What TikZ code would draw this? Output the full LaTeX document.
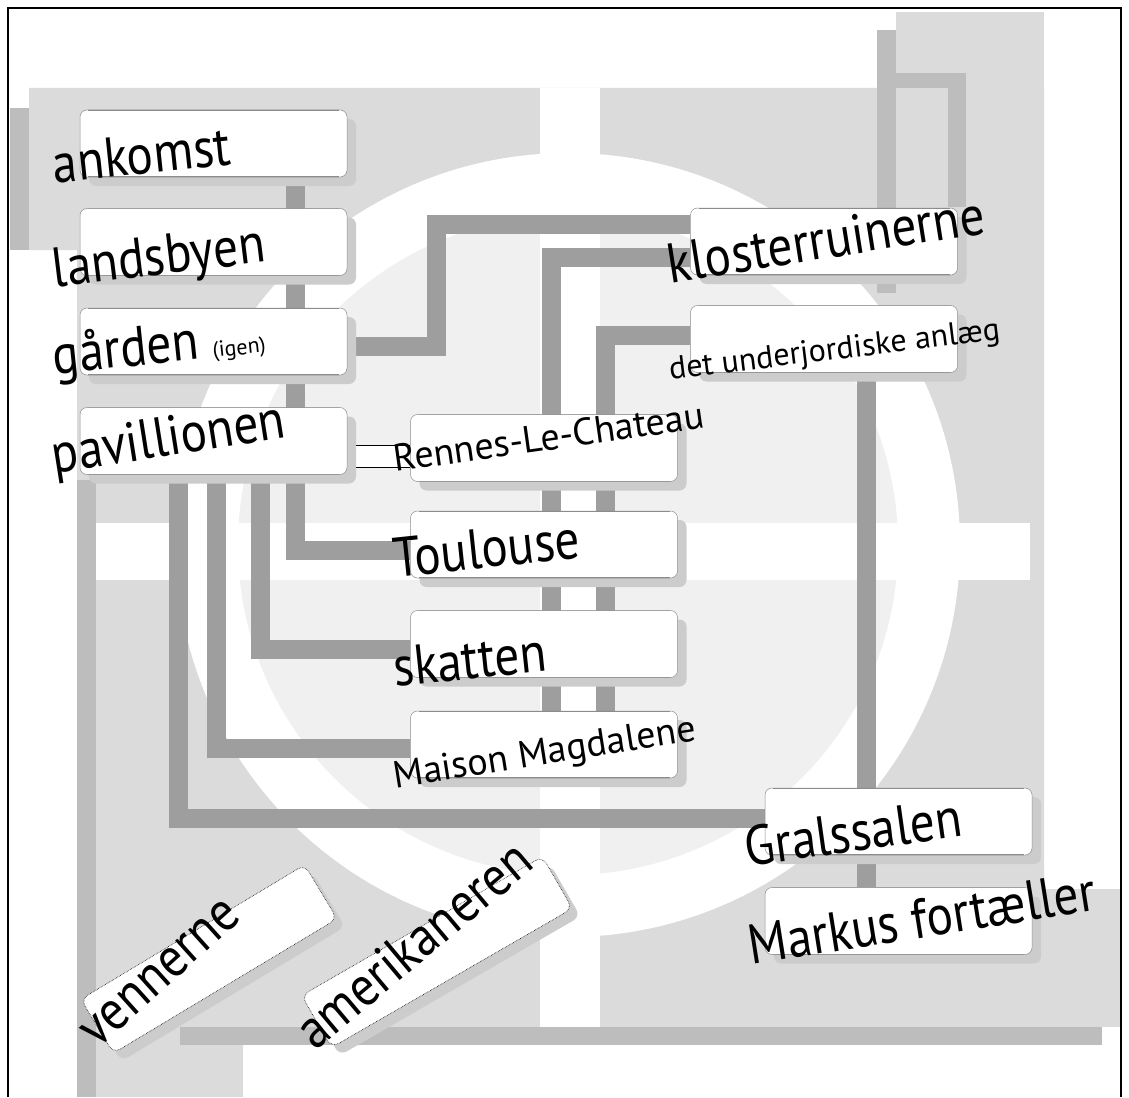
\documentclass[tikz,border=0pt]{standalone}
\usepackage{fontspec}
\newfontfamily\roomfont[FakeStretch=0.88]{PT Sans}
\newfontfamily\plainfont{PT Sans}
\usetikzlibrary{positioning,shadows}

\definecolor{pale}{gray}{0.86}
\definecolor{faint}{gray}{0.94}
\definecolor{midgrey}{gray}{0.74}
\definecolor{linkgrey}{gray}{0.62}
\definecolor{shadowgrey}{gray}{0.80}

\pgfdeclarelayer{bg}
\pgfdeclarelayer{wires}
\pgfsetlayers{bg,wires,main}

\begin{document}
\begin{tikzpicture}[x=1pt, y=-1pt,
  room/.style={fill=white, draw=black!45, line width=0.5pt, rounded corners=7pt,
    minimum width=267pt, minimum height=67pt, inner sep=0pt,
    drop shadow={shadow xshift=9pt, shadow yshift=-9pt, fill=shadowgrey, opacity=1},
    path picture={\draw[line width=1.6pt]
      ([xshift=8pt]path picture bounding box.north west) -- ([xshift=-8pt]path picture bounding box.north east)
      ([xshift=8pt]path picture bounding box.south west) -- ([xshift=-8pt]path picture bounding box.south east);}},
  slant/.style={fill=white, draw=black, densely dotted, line width=0.6pt, rounded corners=8pt,
    inner sep=0pt, drop shadow={shadow xshift=8pt, shadow yshift=-8pt, fill=shadowgrey, opacity=1}},
  tag/.style={font=\roomfont\fontsize{56}{56}\selectfont, inner sep=0pt, anchor=base west},
  smalltag/.style={font=\plainfont\fontsize{38}{38}\selectfont, inner sep=0pt, anchor=base west},
  link/.style={line width=19pt, draw=linkgrey},
  hollow/.style={draw=black, line width=1pt, double=white, double distance=21pt}]

\useasboundingbox (0,0) rectangle (1129,1097);

%baggrund: korset og ringen
\begin{pgfonlayer}{bg}
\fill[pale] (29,88) -- (1044,88) -- (1044,1027) -- (77,1027) -- (77,250) -- (29,250) -- cycle;
\fill[pale] (896,12) rectangle (1044,88);
\fill[pale] (77,1027) rectangle (243,1097);
\fill[pale] (1044,889) rectangle (1120,1027);
\fill[midgrey] (10,108) rectangle (29,250);
\fill[midgrey] (77,480) rectangle (96,1097);
\fill[midgrey] (180,1027) rectangle (1102,1045);
\fill[midgrey] (877,30) rectangle (896,293);
\fill[midgrey] (877,73) rectangle (966,88);
\fill[midgrey] (948,73) rectangle (966,207);
\fill[white] (568,545) circle[radius=392];
\fill[faint] (568,545) circle[radius=330];
\fill[white] (540,88) rectangle (600,1027);
\fill[white] (96,523) rectangle (1030,580);
\end{pgfonlayer}

%ramme
\draw[line width=2pt] (8,1097) -- (8,8) -- (1121,8) -- (1121,1097);

%venstre kolonne
\node[room] (ankomst) at (213.5,143.5) {};
\node[room, below=31pt of ankomst] (landsbyen) {};
\node[room, below=32pt of landsbyen] (garden) {};
\node[room, below=32pt of garden] (pav) {};

%midterste kolonne
\node[room] (rennes) at (544,448) {};
\node[room, below=29pt of rennes] (toulouse) {};
\node[room, below=32pt of toulouse] (skatten) {};
\node[room, below=33pt of skatten] (maison) {};

%hoejre kolonne
\node[room] (kloster) at (824,241.5) {};
\node[room, below=30pt of kloster] (under) {};
\node[room] (grals) at (898.5,821.5) {};
\node[room, below=32pt of grals] (markus) {};

%de skraa kasser
\node[slant, minimum width=261pt, minimum height=63pt, rotate=31] (venner) at (209,959) {};
\node[slant, minimum width=278pt, minimum height=60pt, rotate=30] (amerik) at (437,952) {};

%tekster
\node[tag, rotate=6] (ankomstT) at ([shift={(-25,6)}]ankomst.south west) {ankomst};
\node[tag, rotate=7] (landsbyenT) at ([shift={(-25,12)}]landsbyen.south west) {landsbyen};
\node[tag, rotate=6] (gardenT) at ([shift={(-25,-1)}]garden.south west) {gården {\plainfont\fontsize{22}{22}\selectfont(igen)}};
\node[tag, rotate=9] (pavT) at ([shift={(-25,-1)}]pav.south west) {pavillionen};
\node[smalltag, rotate=8] (rennesT) at ([shift={(-15,-10)}]rennes.south west) {Rennes-Le-Chateau};
\node[tag, rotate=6] (toulouseT) at ([shift={(-15,-1)}]toulouse.south west) {Toulouse};
\node[tag, rotate=6] (skattenT) at ([shift={(-15,9)}]skatten.south west) {skatten};
\node[smalltag, rotate=9] (maisonT) at ([shift={(-15,10)}]maison.south west) {Maison Magdalene};
\node[tag, rotate=9] (klosterT) at ([shift={(-20,8)}]kloster.south west) {klosterruinerne};
\node[smalltag, rotate=7, font=\plainfont\fontsize{32}{32}\selectfont] (underT) at ([shift={(-20,7)}]under.south west) {det underjordiske anlæg};
\node[tag, rotate=8] (gralsT) at ([shift={(-17,11)}]grals.south west) {Gralssalen};
\node[tag, rotate=9] (markusT) at ([shift={(-13,10)}]markus.south west) {Markus fortæller};
\node[tag, rotate=42] (vennerT) at (97,1050) {vennerne};
\node[tag, rotate=40] (amerikT) at (315,1052) {amerikaneren};

%forbindelser
\begin{pgfonlayer}{wires}
\draw[link] ([xshift=82pt]ankomst.south) |- ([yshift=-6pt]toulouse.west);
\draw[link] ([xshift=47pt]pav.south) |- ([yshift=-5pt]skatten.west);
\draw[link] ([xshift=3pt]pav.south) |- ([yshift=-4pt]maison.west);
\draw[link] ([xshift=-35pt]pav.south) |- ([yshift=3pt]grals.west);
\draw[link] ([yshift=-5pt]garden.east) -- ++(89,0) |- ([yshift=17pt]kloster.west);
\draw[link] ([yshift=-16pt]kloster.west) -| ([xshift=7pt]maison.north);
\draw[link] ([yshift=4pt]under.west) -| ([xshift=61pt]maison.north);
\draw[link] ([xshift=42pt]under.south) -- ([xshift=42pt]under.south |- grals.north);
\draw[link] ([xshift=-32pt]grals.south) -- ([xshift=-32pt]markus.north);
\draw[hollow] ([yshift=-15pt]pav.east) -- ([yshift=-15pt]pav.east -| rennes.west);
\end{pgfonlayer}

\end{tikzpicture}
\end{document}
